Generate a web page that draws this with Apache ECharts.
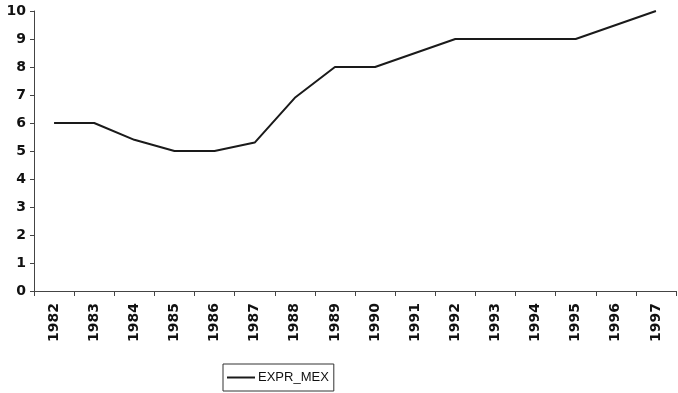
<!DOCTYPE html>
<html><head><meta charset="utf-8">
<script src="https://cdn.jsdelivr.net/npm/echarts@6/dist/echarts.min.js"></script>
<style>html,body{margin:0;padding:0;background:#fff}#c{width:678px;height:393px}</style>
</head><body><div id="c"></div>
<script>
const years = ['1982','1983','1984','1985','1986','1987','1988','1989','1990','1991','1992','1993','1994','1995','1996','1997'];
const exprMex = [6, 6, 5.4, 5, 5, 5.3, 6.9, 8, 8, 8.5, 9, 9, 9, 9, 9.5, 10];
const yTicks = {min: 0, max: 10, interval: 1};

const chart = echarts.init(document.getElementById('c'));
chart.setOption({
  animation: false,
  grid: {left: 34, right: 2, top: 11, bottom: 102},
  legend: {
    data: ['EXPR_MEX'],
    left: 223, top: 364,
    itemWidth: 28, itemHeight: 2, itemGap: 4,
    icon: 'rect',
    borderColor: '#333', borderWidth: 1,
    padding: [6, 5, 6, 4],
    textStyle: {fontFamily: 'Liberation Sans', fontSize: 13, lineHeight: 15, color: '#111', padding: [0,0,0,-2]}
  },
  xAxis: {
    type: 'category', data: years, boundaryGap: true,
    axisLine: {lineStyle: {color: '#444', width: 1}},
    axisTick: {show: true, length: 5, inside: false, lineStyle: {color: '#444'}},
    axisLabel: {rotate: 90, fontFamily: 'DejaVu Sans', fontWeight: 'bold', fontSize: 14, color: '#111', margin: 12, interval: 0}
  },
  yAxis: {
    type: 'value', min: yTicks.min, max: yTicks.max, interval: yTicks.interval,
    splitLine: {show: false},
    axisLine: {show: true, lineStyle: {color: '#444', width: 1}},
    axisTick: {show: true, length: 4, lineStyle: {color: '#444'}},
    axisLabel: {fontFamily: 'DejaVu Sans', fontWeight: 'bold', fontSize: 14, color: '#111', margin: 8}
  },
  series: [{
    name: 'EXPR_MEX', type: 'line', data: exprMex,
    symbol: 'none',
    lineStyle: {color: '#1a1a1a', width: 2},
    itemStyle: {color: '#1a1a1a'}
  }]
});
</script></body></html>
